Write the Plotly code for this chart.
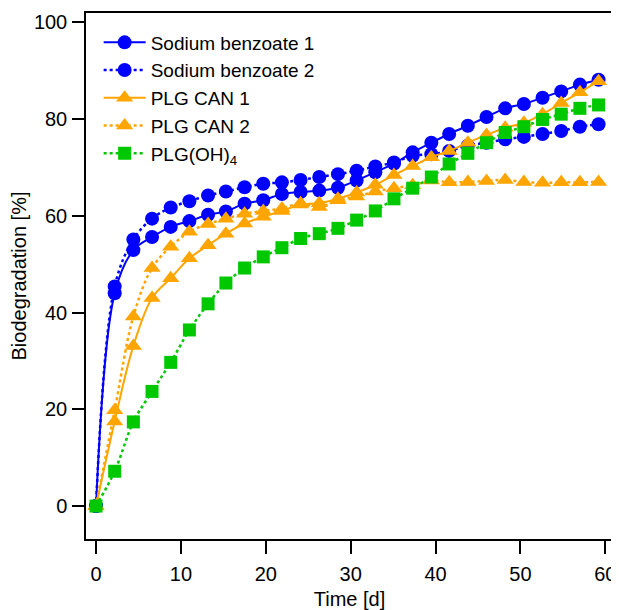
import plotly.graph_objects as go

time_d = [0, 2.2, 4.4, 6.6, 8.8, 11.0, 13.2, 15.3, 17.5, 19.7, 21.9, 24.1, 26.3, 28.5,
          30.7, 32.9, 35.1, 37.3, 39.5, 41.6, 43.8, 46.0, 48.2, 50.4, 52.6, 54.8, 57.0, 59.2]

sodium_benzoate_1 = [0, 44.0, 52.9, 55.6, 57.7, 58.9, 60.2, 60.9, 62.5, 63.2, 64.5, 64.9, 65.2, 65.8,
                     67.3, 69.0, 70.8, 73.1, 75.1, 76.9, 78.6, 80.4, 82.2, 83.1, 84.4, 85.7, 87.1, 88.1]
sodium_benzoate_2 = [0, 45.4, 55.1, 59.4, 61.7, 63.0, 64.2, 65.0, 65.9, 66.6, 66.9, 67.4, 68.0, 68.6,
                     69.3, 70.2, 71.0, 72.4, 72.7, 73.4, 74.5, 75.1, 75.8, 76.3, 76.9, 77.5, 78.4, 78.9]
plg_can_1 = [0, 17.5, 33.1, 43.0, 47.1, 51.2, 53.9, 56.3, 58.4, 59.8, 61.0, 62.3, 62.6, 63.5,
             64.8, 66.4, 68.4, 70.3, 72.1, 73.4, 75.1, 76.7, 78.2, 79.2, 81.0, 83.3, 85.5, 87.8]
plg_can_2 = [0, 19.8, 39.2, 49.2, 53.6, 56.7, 58.3, 59.4, 60.4, 61.0, 61.5, 62.6, 61.8, 63.2,
             64.0, 65.0, 65.7, 66.3, 67.3, 66.9, 67.0, 67.2, 67.4, 67.0, 66.8, 66.9, 66.9, 67.0]
plg_oh4 = [0, 7.2, 17.4, 23.7, 29.7, 36.4, 41.8, 46.1, 49.2, 51.5, 53.4, 55.3, 56.3, 57.4,
           59.1, 61.0, 63.5, 65.7, 68.0, 70.7, 72.9, 75.1, 77.2, 78.4, 79.9, 81.0, 82.2, 82.9]

y_ticks = [0, 20, 40, 60, 80, 100]
x_ticks = [0, 10, 20, 30, 40, 50, 60]

BLUE = "#0000FF"
ORANGE = "#FFA500"
GREEN = "#00C800"
FONT = "Liberation Sans, Arial, sans-serif"

series = [
    ("Sodium benzoate 1", sodium_benzoate_1, BLUE, "solid", "circle", 14),
    ("Sodium benzoate 2", sodium_benzoate_2, BLUE, "dot", "circle", 14),
    ("PLG CAN 1", plg_can_1, ORANGE, "solid", "triangle-up", 15),
    ("PLG CAN 2", plg_can_2, ORANGE, "dot", "triangle-up", 15),
    ("PLG(OH)<sub>4</sub>", plg_oh4, GREEN, "dot", "square", 13),
]

fig = go.Figure()
for name, vals, color, dash, symbol, size in series:
    fig.add_trace(go.Scatter(
        x=time_d, y=vals, name=name, mode="lines+markers",
        line=dict(color=color, width=2 if dash == "solid" else 2.5, dash=dash, shape="spline", smoothing=1.0),
        marker=dict(color=color, symbol=symbol, size=size, line=dict(width=0)),
    ))

# the page body has an 8px default margin, so the figure is sized to fill the rest of the window
fig.update_layout(
    width=611, height=602,
    margin=dict(l=78, r=6, t=5, b=71),
    paper_bgcolor="white", plot_bgcolor="white",
    font=dict(family=FONT, size=20, color="black"),
    showlegend=True,
    legend=dict(x=0.024, y=0.98, xanchor="left", yanchor="top",
                bgcolor="rgba(0,0,0,0)", font=dict(size=19), itemwidth=42,
                tracegroupgap=0),
)
fig.update_xaxes(
    range=[-1.18, 60.9], tickvals=x_ticks, ticks="outside", ticklen=13, tickwidth=1.5,
    tickcolor="black", showline=True, linecolor="black", linewidth=1.5, mirror=True,
    showgrid=False, zeroline=False, ticklabelstandoff=3, automargin=False,
    title=dict(text="Time [d]", standoff=9, font=dict(size=20)),
)
fig.update_yaxes(
    range=[-6.8, 101.9], tickvals=y_ticks, ticks="outside", ticklen=12, tickwidth=1.5,
    tickcolor="black", showline=True, linecolor="black", linewidth=1.5, mirror=True,
    showgrid=False, zeroline=False, ticklabelstandoff=1, automargin=False,
    title=dict(text="Biodegradation [%]", standoff=8, font=dict(size=20)),
)

fig.write_html("out.html")
